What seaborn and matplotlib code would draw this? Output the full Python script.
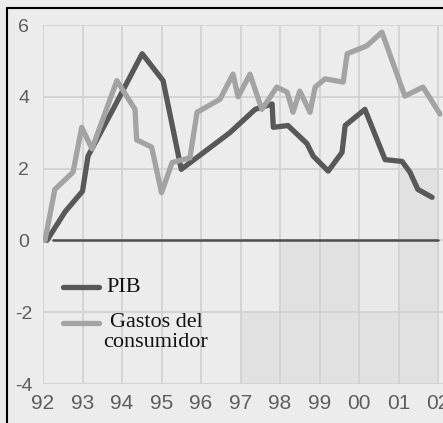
import matplotlib
matplotlib.use("Agg")
import matplotlib.pyplot as plt
from matplotlib.lines import Line2D
from matplotlib.patches import Rectangle
import seaborn as sns
import pandas as pd

# ---- data ----
pib_x = [92.1, 92.56, 93.0, 93.14, 93.82, 94.51, 95.04, 95.5, 96.73, 97.37, 97.8, 97.83,
         98.2, 98.68, 98.84, 99.22, 99.57, 99.65, 100.15, 100.66, 101.09, 101.29, 101.49, 101.85]
pib_y = [0.0, 0.8, 1.37, 2.35, 3.75, 5.2, 4.45, 1.98, 3.0, 3.65, 3.8, 3.15,
         3.2, 2.7, 2.35, 1.93, 2.45, 3.2, 3.65, 2.25, 2.2, 1.9, 1.42, 1.2]
gasto_x = [92.05, 92.3, 92.76, 92.98, 93.24, 93.87, 94.33, 94.37, 94.75, 95.0, 95.27, 95.72,
           95.9, 96.48, 96.81, 96.94, 97.24, 97.54, 97.92, 98.18, 98.33, 98.5, 98.76, 98.89,
           99.14, 99.6, 99.7, 100.2, 100.58, 101.16, 101.62, 102.05]
gasto_y = [0.0, 1.42, 1.9, 3.15, 2.55, 4.45, 3.65, 2.8, 2.6, 1.33, 2.17, 2.3,
           3.57, 3.93, 4.63, 4.0, 4.63, 3.65, 4.27, 4.13, 3.57, 4.16, 3.57, 4.27,
           4.5, 4.41, 5.2, 5.42, 5.8, 4.02, 4.27, 3.52]
year_ticks = [92, 93, 94, 95, 96, 97, 98, 99, 100, 101, 102]
year_labels = ["92", "93", "94", "95", "96", "97", "98", "99", "00", "01", "02"]
y_ticks = [-4, -2, 0, 2, 4, 6]
series_names = ["PIB", "Gastos del\nconsumidor"]

df = pd.concat([
    pd.DataFrame({"año": pib_x, "valor": pib_y, "serie": series_names[0]}),
    pd.DataFrame({"año": gasto_x, "valor": gasto_y, "serie": series_names[1]}),
], ignore_index=True)

sns.set_theme(style="white")
bg = "#ececec"
plt.rcParams["font.family"] = ["Liberation Sans", "DejaVu Sans"]

fig = plt.figure(figsize=(4.43, 4.23), dpi=100, facecolor=bg)
W, H = 443, 423
x0, x1 = 92.0, 102.12
ppy = 39.5
left_px, top_px, bot_px = 43, 25, 384
ax = fig.add_axes([left_px / W, 1 - bot_px / H, (x1 - x0) * ppy / W, (bot_px - top_px) / H])
ax.set_facecolor(bg)

# shaded cells in the lower right
shade = "#e1e1e1"
for (xa, xb, ya, yb) in [(97, 102, -4, -2), (98, 100, -2, 0), (101, 102, -2, 0), (101, 102, 0, 1.95)]:
    ax.add_patch(Rectangle((xa, ya), xb - xa, yb - ya, facecolor=shade, edgecolor="none", zorder=0))
ax.add_patch(Rectangle((100, -2), 1, 2, facecolor="#e9e9e9", edgecolor="none", zorder=0))

palette = {series_names[0]: "#585858", series_names[1]: "#a3a3a3"}
sns.lineplot(data=df, x="año", y="valor", hue="serie", hue_order=series_names,
             palette=palette, sort=False, estimator=None, legend=False,
             linewidth=3.8, ax=ax, zorder=3)
for ln in ax.lines:
    ln.set_solid_joinstyle("round")
    ln.set_solid_capstyle("round")

ax.axhline(0, xmin=(92.25 - x0) / (x1 - x0), xmax=(102.0 - x0) / (x1 - x0),
           color="#4d4d4d", linewidth=1.8, zorder=2)

ax.set_xlim(x0, x1)
ax.set_ylim(-4, 6)
ax.set_xticks(year_ticks)
ax.set_xticklabels(year_labels)
ax.set_yticks(y_ticks)
ax.set_yticklabels([str(v) for v in y_ticks])
ax.grid(True, color="#d2d2d2", linewidth=1.3, zorder=1)
ax.set_axisbelow(True)
for s in ax.spines.values():
    s.set_visible(False)
ax.tick_params(axis="x", length=0, pad=7, labelsize=15, labelcolor="#5e5e5e")
ax.tick_params(axis="y", length=0, pad=14, labelsize=14, labelcolor="#5e5e5e")
for lab in ax.get_yticklabels():
    lab.set_horizontalalignment("center")
ax.set_xlabel("")
ax.set_ylabel("")

# legend
serif = ["Liberation Serif", "DejaVu Serif"]
ax.add_line(Line2D([92.5, 93.42], [-1.3, -1.3], color=palette[series_names[0]],
                   linewidth=3.8, solid_capstyle="round", zorder=4))
ax.add_line(Line2D([92.5, 93.42], [-2.3, -2.3], color=palette[series_names[1]],
                   linewidth=3.8, solid_capstyle="round", zorder=4))
ax.text(93.6, -1.3, series_names[0], ha="left", va="center", fontsize=16,
        family=serif, color="#111111", zorder=5)
ax.text(94.86, -2.56, series_names[1], ha="center", va="center", fontsize=16,
        family=serif, color="#111111", zorder=5,
        multialignment="center", linespacing=1.05)

# scan frame on left and top
fig.add_artist(Line2D([7 / W, 7 / W], [0, 1 - 8 / H], transform=fig.transFigure, color="black", linewidth=1.5))
fig.add_artist(Line2D([7 / W, 1], [1 - 8 / H, 1 - 8 / H], transform=fig.transFigure, color="black", linewidth=1.5))

fig.savefig("out.png", dpi=100, facecolor=bg)
